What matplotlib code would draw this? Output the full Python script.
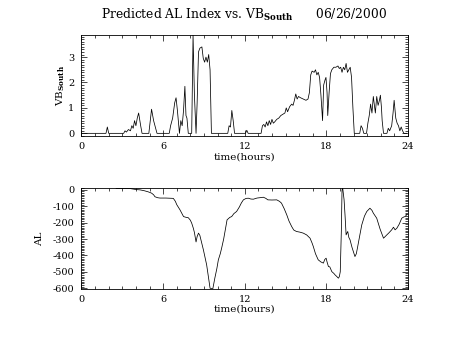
import matplotlib
matplotlib.use("Agg")
import matplotlib.pyplot as plt
from matplotlib.ticker import MultipleLocator

plt.rcParams['font.family'] = ['DejaVu Serif']
plt.rcParams['mathtext.fontset'] = 'dejavuserif'
plt.rcParams['axes.unicode_minus'] = False

# Southward IMF component (hours, nT-ish units)
vb_time = [0, 1.8, 1.9, 2.0,
           3.1, 3.2, 3.3, 3.45, 3.6, 3.7, 3.8, 3.9, 4.0, 4.1, 4.2, 4.35, 4.45,
           4.95, 5.15, 5.3, 5.55,
           6.45, 6.55, 6.7, 6.85, 6.95, 7.05, 7.2, 7.3, 7.4, 7.5, 7.6, 7.68, 7.75, 7.85,
           8.1, 8.2, 8.3, 8.42, 8.5, 8.6, 8.7, 8.85, 8.95, 9.05, 9.15, 9.25, 9.35, 9.45, 9.55,
           10.75, 10.85, 10.95, 11.05, 11.15, 11.25,
           12.05, 12.15, 12.25,
           13.2, 13.3, 13.4, 13.5, 13.6, 13.7, 13.8, 13.9, 14.0, 14.1, 14.2, 14.35, 14.5,
           14.65, 14.8, 14.95, 15.05, 15.15, 15.3, 15.45, 15.55, 15.65, 15.75, 15.85, 15.95,
           16.1, 16.3, 16.5, 16.65, 16.75, 16.85, 16.95, 17.1, 17.2, 17.3, 17.4, 17.5, 17.6,
           17.72, 17.8, 17.9, 17.97, 18.05, 18.1, 18.2, 18.3, 18.4, 18.55, 18.7, 18.85, 18.95,
           19.05, 19.15, 19.25, 19.35, 19.45, 19.55, 19.65, 19.75, 19.85, 19.95, 20.05,
           20.45, 20.55, 20.65, 20.75,
           20.95, 21.05, 21.15, 21.25, 21.35, 21.45, 21.55, 21.6, 21.7, 21.8, 21.9, 21.97,
           22.05, 22.1, 22.2,
           22.45, 22.55, 22.65, 22.8, 22.9, 22.98, 23.1, 23.2, 23.3, 23.4, 23.5, 23.6, 23.7, 23.9]
vb_south = [0, 0, 0.25, 0,
            0, 0.1, 0.05, 0.15, 0.1, 0.3, 0.2, 0.5, 0.3, 0.6, 0.8, 0.3, 0,
            0, 0.95, 0.5, 0,
            0, 0.3, 0.6, 1.2, 1.4, 0.9, 0, 0.5, 0.3, 0.9, 1.85, 0.7, 0.6, 0,
            0, 3.87, 1.5, 0, 1.2, 3.2, 3.35, 3.4, 2.95, 2.8, 3.0, 2.8, 3.1, 2.5, 0,
            0, 0.3, 0.25, 0.9, 0.5, 0,
            0, 0.12, 0,
            0, 0.3, 0.35, 0.25, 0.45, 0.3, 0.5, 0.35, 0.55, 0.4, 0.45, 0.55, 0.6,
            0.7, 0.75, 0.8, 1.0, 0.85, 1.05, 1.15, 1.1, 1.3, 1.55, 1.35, 1.45,
            1.4, 1.35, 1.3, 1.35, 1.6, 2.3, 2.45, 2.4, 2.5, 2.3, 2.4, 2.2, 1.5,
            0.5, 1.9, 2.1, 2.2, 1.6, 0.7, 1.6, 2.35, 2.5, 2.6, 2.6, 2.65, 2.55,
            2.6, 2.4, 2.6, 2.5, 2.75, 2.4, 2.5, 2.6, 2.2, 1.0, 0,
            0, 0.3, 0.2, 0,
            0, 0.4, 0.7, 1.15, 0.8, 1.45, 1.0, 0.8, 1.45, 1.1, 1.3, 1.5,
            1.0, 0.5, 0,
            0, 0.2, 0.1, 0.3, 0.8, 1.3, 0.6, 0.4, 0.3, 0.1, 0.25, 0.1, 0, 0]

# Predicted AL index
al_time = [2.55, 3.0, 3.57, 4.0, 4.3, 4.6, 4.9, 5.15, 5.3, 5.4, 5.6, 5.77, 6.2, 6.75,
           6.9, 7.0, 7.24, 7.5, 7.7, 7.85, 8.0, 8.1, 8.22, 8.3, 8.42, 8.5, 8.6, 8.7,
           8.96, 9.2, 9.45, 9.65, 9.8, 9.95, 10.06, 10.2, 10.3, 10.45, 10.6, 10.7,
           10.9, 11.04, 11.2, 11.4, 11.6, 11.75, 11.9, 12.1, 12.27, 12.45, 12.63,
           12.9, 13.1, 13.37, 13.55, 13.7, 14.0, 14.35, 14.55, 14.7, 14.9, 15.09,
           15.25, 15.45, 15.6, 15.8, 16.05, 16.3, 16.55, 16.8, 16.95, 17.04, 17.2,
           17.4, 17.6, 17.78, 17.88, 17.98, 18.05, 18.15, 18.25, 18.4, 18.55, 18.64,
           18.78, 18.88, 18.95, 19.02, 19.1, 19.15, 19.2, 19.3, 19.37, 19.45, 19.5,
           19.57, 19.65, 19.74, 19.88, 19.98, 20.1, 20.2, 20.28, 20.45, 20.6, 20.8,
           20.97, 21.2, 21.35, 21.45, 21.7, 21.95, 22.2, 22.44, 22.6, 22.8, 22.93,
           23.05, 23.18, 23.35, 23.54, 23.7, 23.79, 23.92]
al_index = [8, 8, 8, 2, 0, -5, -12, -20, -30, -42, -48, -50, -50, -52,
            -70, -90, -122, -163, -168, -170, -185, -203, -234, -260, -318, -285, -264, -278,
            -366, -458, -600, -605, -539, -480, -427, -390, -356, -300, -230, -183,
            -168, -163, -145, -132, -105, -80, -61, -52, -51, -56, -57,
            -50, -48, -45, -52, -61, -62, -61, -70, -81, -115, -153,
            -190, -224, -245, -254, -258, -264, -275, -295, -325, -346, -390,
            -427, -440, -447, -425, -417, -440, -468, -470, -499, -510, -519,
            -530, -539, -530, -500, -250, 0, 10, -60, -153, -275, -265,
            -254, -290, -305, -350, -376, -407, -390, -356, -280, -214, -160,
            -132, -112, -125, -142, -173, -240, -295, -275, -262, -244, -228,
            -244, -234, -210, -173, -165, -163, -150]

hour_ticks = [0, 6, 12, 18, 24]
vb_ticks = [0, 1, 2, 3]
al_ticks = [0, -100, -200, -300, -400, -500, -600]

fig = plt.figure(figsize=(4.54, 3.41), dpi=100)
ax1 = fig.add_axes([0.1795, 0.600, 0.7192, 0.2975])
ax2 = fig.add_axes([0.1795, 0.1525, 0.7192, 0.2965])

for ax in (ax1, ax2):
    ax.set_xlim(0, 24)
    ax.set_xticks(hour_ticks)
    ax.xaxis.set_minor_locator(MultipleLocator(1))
    ax.tick_params(which='both', direction='in', top=True, right=True,
                   labelsize=7, width=0.5, colors='black')
    ax.tick_params(which='major', length=4)
    ax.tick_params(which='minor', length=2)
    ax.tick_params(axis='x', pad=4)
    ax.tick_params(axis='y', pad=5)
    for s in ax.spines.values():
        s.set_linewidth(0.6)
    ax.set_xlabel('time(hours)', fontsize=7.5, labelpad=1)

ax1.plot(vb_time, vb_south, color='black', linewidth=0.55)
ax1.set_ylim(-0.12, 3.87)
ax1.set_yticks(vb_ticks)
ax1.yaxis.set_minor_locator(MultipleLocator(0.1))
ax1.set_ylabel(r'VB$_{\mathbf{South}}$', fontsize=7.5, labelpad=1)

ax2.plot(al_time, al_index, color='black', linewidth=0.55)
ax2.set_ylim(-605, 12)
ax2.set_yticks(al_ticks)
ax2.yaxis.set_minor_locator(MultipleLocator(10))
ax2.set_ylabel('AL', fontsize=7.5, labelpad=6)

fig.text(0.537, 0.955, r'Predicted AL Index vs. VB$_{\mathbf{South}}$      06/26/2000',
         ha='center', va='center', fontsize=8.8)

fig.savefig('out.png', dpi=100)
